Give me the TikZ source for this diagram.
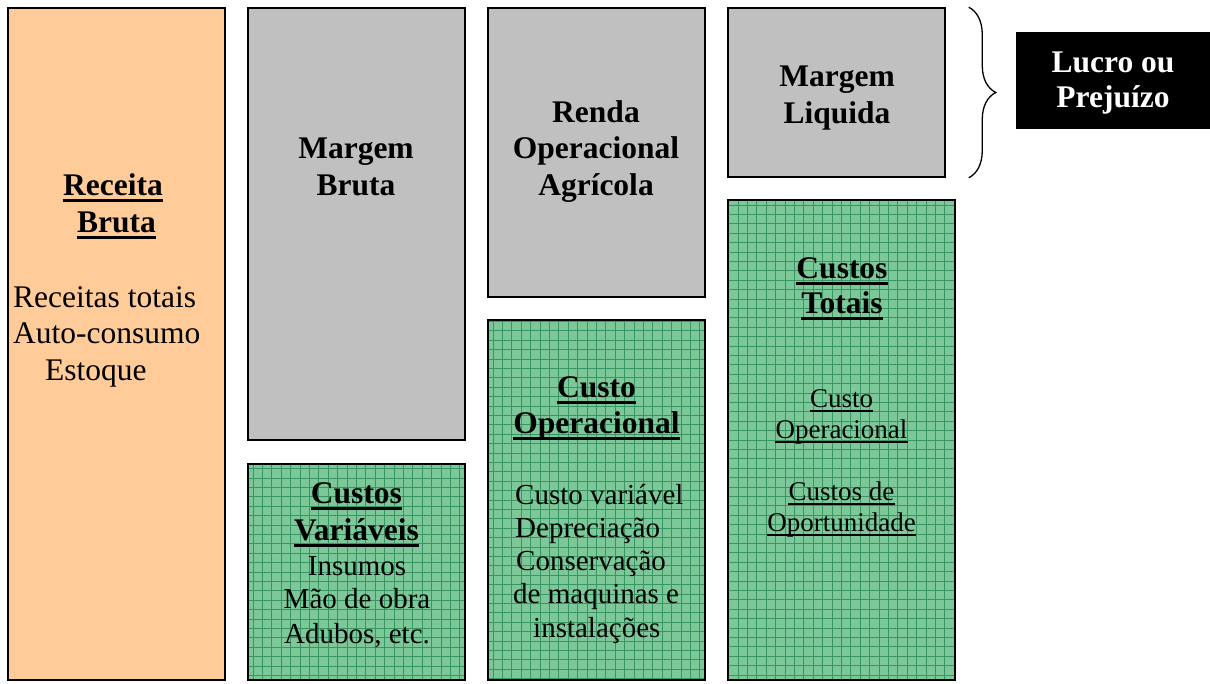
\documentclass[tikz,border=0pt]{standalone}
\usepackage{fontspec}
\setmainfont{Liberation Serif}
\usetikzlibrary{decorations.pathreplacing}
\definecolor{peach}{RGB}{255,204,153}
\definecolor{greybox}{RGB}{192,192,192}
\definecolor{grnbg}{RGB}{125,200,153}
\definecolor{grnline}{RGB}{55,150,100}
\tikzset{
  box/.style={draw=black, line width=1.5pt, inner sep=0pt, rectangle},
  peachbox/.style={box, fill=peach},
  greybx/.style={box, fill=greybox},
  greenbx/.style={box, fill=grnbg, path picture={
      \draw[grnline, line width=1pt, step=9.4pt]
        (path picture bounding box.south west) grid (path picture bounding box.north east);}},
  hd/.style={font=\fontsize{31.5}{36}\selectfont\bfseries, anchor=base, inner sep=0pt},
  bdl/.style={font=\fontsize{31.5}{36}\selectfont, anchor=base west, inner sep=0pt},
  bd/.style={font=\fontsize{29}{33}\selectfont, anchor=base, inner sep=0pt},
  bdw/.style={font=\fontsize{29}{33}\selectfont, anchor=base west, inner sep=0pt},
  sm/.style={font=\fontsize{27}{31}\selectfont, anchor=base, inner sep=0pt},
  hul/.style={line width=2.6pt, black},
  sul/.style={line width=1.3pt, black},
  bracestyle/.style={decorate, decoration={brace, amplitude=27pt}, line width=1.3pt},
}
\newcommand\hul[1]{\draw[hul] ([yshift=-5.5pt]#1.base west) -- ([yshift=-5.5pt]#1.base east);}
\newcommand\sul[1]{\draw[sul] ([yshift=-4pt]#1.base west) -- ([yshift=-4pt]#1.base east);}
\begin{document}
\begin{tikzpicture}[x=1pt,y=-1pt]
\useasboundingbox (0,0) rectangle (1210,683);
% boxes
\node[peachbox, minimum width=217pt, minimum height=672pt] (rb) at (116.5,344) {};
\node[greybx, minimum width=217pt, minimum height=432pt] (mb) at (356.5,224) {};
\node[greenbx, minimum width=217pt, minimum height=216pt] (cv) at (356.5,572) {};
\node[greybx, minimum width=217pt, minimum height=289pt] (ro) at (596.5,152.5) {};
\node[greenbx, minimum width=217pt, minimum height=360pt] (co) at (596.5,500) {};
\node[greybx, minimum width=217pt, minimum height=169pt] (ml) at (836.5,92.5) {};
\node[greenbx, minimum width=227pt, minimum height=480pt] (ct) at (841.5,440) {};
\node[fill=black, inner sep=0pt, minimum width=194pt, minimum height=97pt] (lp) at (1113,80.5) {};
% Receita Bruta
\node[hd] (rb1) at (113,195) {Receita};
\node[hd] (rb2) at (116.5,232) {Bruta};
\hul{rb1}\hul{rb2}
\node[bdl] (rb3) at (13,307) {Receitas totais};
\node[bdl] (rb4) at (13,343) {Auto-consumo};
\node[bdl] (rb5) at (45,380) {Estoque};
% Margem Bruta
\node[hd] (mb1) at (356,158) {Margem};
\node[hd] (mb2) at (356,195) {Bruta};
% Custos Variaveis
\node[hd] (cv1) at (356.5,503) {Custos};
\node[hd] (cv2) at (356.5,540) {Variáveis};
\hul{cv1}\hul{cv2}
\node[bd] (cv3) at (357,575) {Insumos};
\node[bd] (cv4) at (357,608) {Mão de obra};
\node[bd] (cv5) at (357,643) {Adubos, etc.};
% Renda Operacional Agricola
\node[hd] (ro1) at (596,122) {Renda};
\node[hd] (ro2) at (596,158) {Operacional};
\node[hd] (ro3) at (596,195) {Agrícola};
% Custo Operacional
\node[hd] (co1) at (596.5,397) {Custo};
\node[hd] (co2) at (596.5,433) {Operacional};
\hul{co1}\hul{co2}
\node[bdw] (co3) at (515,504) {Custo variável};
\node[bdw] (co4) at (515,537) {Depreciação};
\node[bdw] (co5) at (516,570) {Conservação};
\node[bdw] (co6) at (513,603) {de maquinas e};
\node[bdw] (co7) at (533,637) {instalações};
% Margem Liquida
\node[hd] (ml1) at (837,86) {Margem};
\node[hd] (ml2) at (837,123) {Liquida};
% Custos Totais
\node[hd] (ct1) at (842,278) {Custos};
\node[hd] (ct2) at (842,313) {Totais};
\hul{ct1}\hul{ct2}
\node[sm] (ct3) at (841.5,407) {Custo};
\node[sm] (ct4) at (841.5,438) {Operacional};
\node[sm] (ct5) at (841.5,500) {Custos de};
\node[sm] (ct6) at (841.5,531) {Oportunidade};
\sul{ct3}\sul{ct4}\sul{ct5}\sul{ct6}
% Lucro ou Prejuizo
\node[hd, text=white] (lp1) at (1113,72) {Lucro ou};
\node[hd, text=white] (lp2) at (1113,107) {Prejuízo};
% brace
\coordinate (bt) at ([xshift=23pt]ml.north east);
\coordinate (bb) at ([xshift=23pt]ml.south east);
\draw[bracestyle] (bt) -- (bb);
\end{tikzpicture}
\end{document}
